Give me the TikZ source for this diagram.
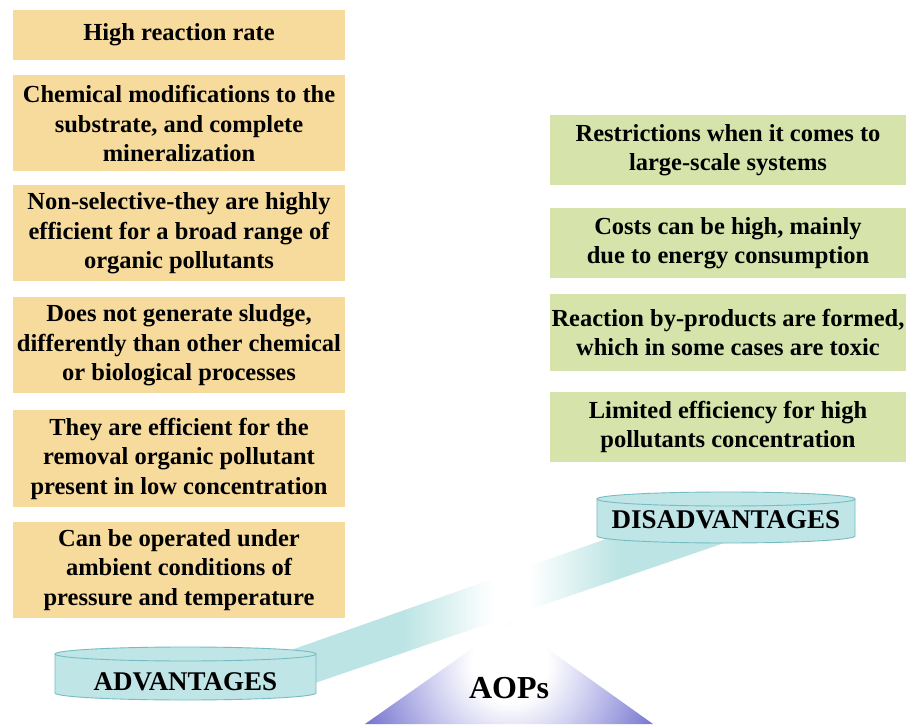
\documentclass[tikz,border=0pt]{standalone}
\usepackage{fontspec}
\setmainfont{Liberation Serif}
\usetikzlibrary{calc}

\definecolor{procol}{RGB}{247,219,156}
\definecolor{concol}{RGB}{214,228,171}
\definecolor{drumcol}{RGB}{192,229,231}
\definecolor{drumline}{RGB}{118,188,194}
\definecolor{beamcol}{RGB}{188,228,228}
\definecolor{aoplight}{RGB}{212,212,242}
\definecolor{aopmid}{RGB}{166,166,226}
\definecolor{aopblue}{RGB}{104,104,200}

\pgfdeclarelayer{beam}
\pgfdeclarelayer{drum}
\pgfsetlayers{beam,drum,main}

% the path box spans 25bp to 75bp of these shadings
\pgfdeclarehorizontalshading{beamfade}{100bp}{color(0bp)=(beamcol); color(38bp)=(beamcol); color(48bp)=(white); color(52bp)=(white); color(62bp)=(beamcol); color(100bp)=(beamcol)}
\pgfdeclareradialshading{aopglow}{\pgfpointorigin}{color(0bp)=(white); color(6bp)=(white); color(12bp)=(aoplight); color(18bp)=(aopmid); color(26bp)=(aopblue); color(50bp)=(aopblue)}

\newcommand{\boxfont}{\bfseries\fontsize{24.5}{29.5}\selectfont}
\newcommand{\drumfont}{\bfseries\fontsize{27}{30}\selectfont}
\newcommand{\aopfont}{\bfseries\fontsize{32}{36}\selectfont}

\tikzset{
  pro/.style={fill=procol, minimum width=332, minimum height=96, inner sep=0pt, align=center, font=\boxfont},
  con/.style={fill=concol, minimum width=356, minimum height=70, inner sep=0pt, align=center, font=\boxfont},
  drumlabel/.style={inner sep=0pt, font=\drumfont},
  drum/.style={fill=drumcol, draw=drumline, line width=0.9pt},
}

% drum round a label: node, half width, top and bottom offsets
\newcommand{\drum}[4]{%
  \filldraw[drum] ($(#1)+(-#2,#3)$) -- ($(#1)+(-#2,-#4)$)
    arc[start angle=180, end angle=360, x radius=#2, y radius=7]
    -- ($(#1)+(#2,#3)$) -- cycle;
  \filldraw[drum] ($(#1)+(0,#3)$) ellipse [x radius=#2, y radius=7];
}

\begin{document}
\begin{tikzpicture}[x=1pt, y=1pt]
        \useasboundingbox (0,0) rectangle (908,724);
        %
        \node[pro, minimum height=50] (pro1) at (179,689) {High reaction rate};
        \node[pro] (pro2) at (179,600.5) {Chemical modifications to the\\substrate, and complete\\mineralization};
        \node[pro] (pro3) at (179,490.5) {Non-selective-they are highly\\efficient for a broad range of\\organic pollutants};
        \node[pro] (pro4) at (179,378.5) {Does not generate sludge,\\differently than other chemical\\or biological processes};
        \node[pro] (pro5) at (179,265.5) {They are efficient for the\\removal organic pollutant\\present in low concentration};
        \node[pro] (pro6) at (179,154) {Can be operated under\\ambient conditions of\\pressure and temperature};
        %
        \node[con] (con1) at (728,574) {Restrictions when it comes to\\large-scale systems};
        \node[con] (con2) at (728,481) {Costs can be high, mainly\\due to energy consumption};
        \node[con, minimum height=77] (con3) at (728,391.5) {Reaction by-products are formed,\\which in some cases are toxic};
        \node[con] (con4) at (728,297) {Limited efficiency for high\\pollutants concentration};
        %
        \node[drumlabel] (adv) at (185.5,42) {ADVANTAGES};
        \node[drumlabel] (dis) at (726,204) {DISADVANTAGES};
        \node[font=\aopfont, inner sep=0pt] (aop) at (509,36) {AOPs};
        %
        \begin{pgfonlayer}{beam}
          \fill[white] (0,0) rectangle (908,724);
          \shade[shading=beamfade] ($(adv)+(100,30)$) -- ($(dis)+(-120,-19)$)
            -- ($(dis)+(10,-19)$) -- ($(adv)+(129.5,-1)$) -- cycle;
        \end{pgfonlayer}
        %
        \begin{pgfonlayer}{drum}
          \drum{adv}{130.5}{28}{11}
          \drum{dis}{129}{21}{16}
          \begin{scope}
            \clip ($(aop)+(1,66)$) -- ($(aop)+(-144,-36)$) -- ($(aop)+(144,-36)$) -- cycle;
            \shade[shading=aopglow] ($(aop)+(1,24)$) circle (160);
          \end{scope}
        \end{pgfonlayer}
\end{tikzpicture}
\end{document}
